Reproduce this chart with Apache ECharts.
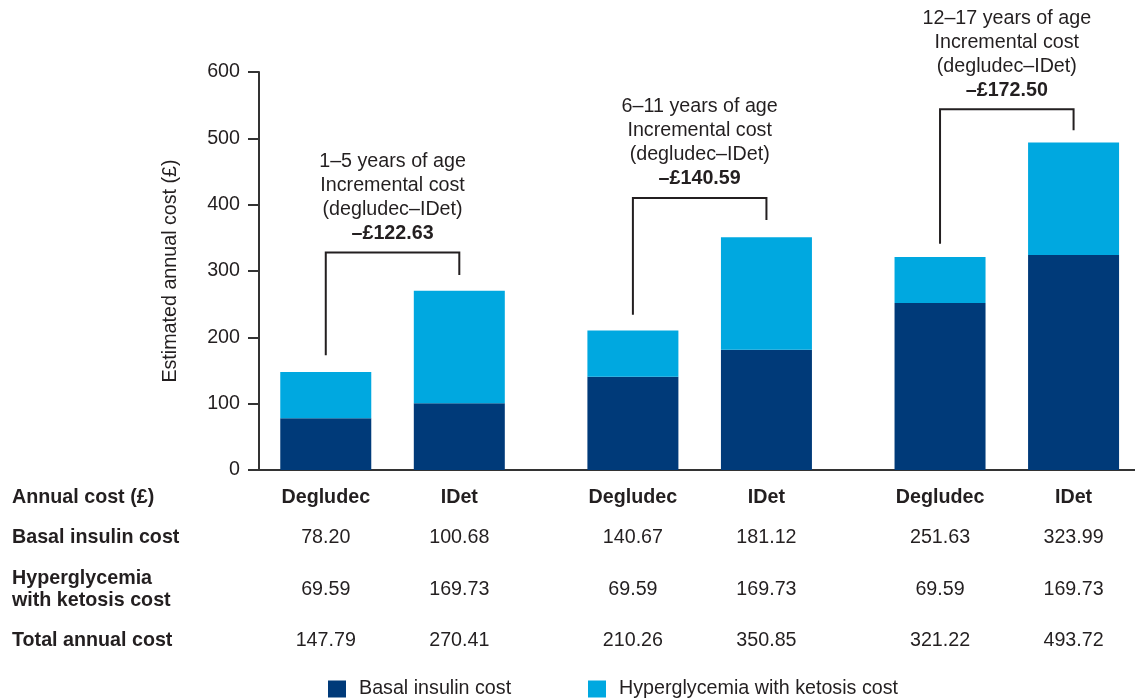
<!DOCTYPE html>
<html>
<head>
<meta charset="utf-8">
<script src="https://cdn.jsdelivr.net/npm/echarts@6/dist/echarts.min.js"></script>
<style>
html,body{margin:0;padding:0;background:#fff;}
#chart{width:1135px;height:699px;}
</style>
</head>
<body>
<div id="chart"></div>
<script>
// ---- data ----
const groupTitles = ['1–5 years of age', '6–11 years of age', '12–17 years of age'];
const incrementalCost = ['–£122.63', '–£140.59', '–£172.50'];
const columnNames = ['Degludec', 'IDet', 'Degludec', 'IDet', 'Degludec', 'IDet'];
const barPositions = [0.5, 1.5, 2.8, 3.8, 5.1, 6.1];
const basalCost = [78.20, 100.68, 140.67, 181.12, 251.63, 323.99];
const hyperCost = [69.59, 169.73, 69.59, 169.73, 69.59, 169.73];
const totalCost = [147.79, 270.41, 210.26, 350.85, 321.22, 493.72];
const bracketTop = [328, 410, 544];
const bracketLeftEnd = [173, 234, 341];
const bracketRightEnd = [294, 377, 512];
const yTickLabels = [0, 100, 200, 300, 400, 500, 600];
const rowLabels = ['Annual cost (£)', 'Basal insulin cost', 'Hyperglycemia\nwith ketosis cost', 'Total annual cost'];
const seriesNames = ['Basal insulin cost', 'Hyperglycemia with ketosis cost'];

const FONT = "'Liberation Sans', Arial, Helvetica, sans-serif";
const TXT = '#231f20';
const NAVY = '#003a79';
const CYAN = '#00a8e0';
const FS = 19.7;

const chart = echarts.init(document.getElementById('chart'), null, {renderer: 'canvas'});

const bracketData = [0, 1, 2].map(g => [barPositions[2 * g], barPositions[2 * g + 1], bracketTop[g], bracketLeftEnd[g], bracketRightEnd[g], g]);
const tableData = barPositions.map((x, i) => [x, 0, i]);

function rowLabel(text, y) {
  return {type: 'text', x: 12, y: y,
    style: {text: text, fontSize: FS, fontWeight: 'bold', fontFamily: FONT, fill: TXT,
      verticalAlign: 'middle', align: 'left', lineHeight: 22}};
}

const option = {
  backgroundColor: '#fff',
  animation: false,
  textStyle: {fontFamily: FONT},
  grid: {left: 259, right: 0, top: 72, bottom: 229, containLabel: false},
  legend: [
    {
      left: 328, top: 679, padding: 0, itemWidth: 18, itemHeight: 17, icon: 'rect',
      data: [seriesNames[0]],
      textStyle: {fontSize: FS, color: TXT, fontFamily: FONT, padding: [0, 0, 0, 8]}
    },
    {
      left: 588, top: 679, padding: 0, itemWidth: 18, itemHeight: 17, icon: 'rect',
      data: [seriesNames[1]],
      textStyle: {fontSize: FS, color: TXT, fontFamily: FONT, padding: [0, 0, 0, 8]}
    }
  ],
  xAxis: {
    type: 'value', min: 0, max: 6.56,
    axisLine: {show: true, onZero: false, lineStyle: {color: '#333', width: 2}},
    axisTick: {show: false}, axisLabel: {show: false}, splitLine: {show: false}
  },
  yAxis: {
    type: 'value', min: 0, max: 600, interval: 100,
    name: 'Estimated annual cost (£)', nameLocation: 'middle', nameGap: 78,
    nameTextStyle: {fontSize: FS, color: TXT, fontFamily: FONT},
    axisLine: {show: true, lineStyle: {color: '#333', width: 2}},
    axisTick: {show: true, length: 11, lineStyle: {color: '#333', width: 2}},
    axisLabel: {fontSize: FS, color: TXT, margin: 19, fontFamily: FONT,
      formatter: v => yTickLabels.indexOf(v) >= 0 ? String(v) : ''},
    splitLine: {show: false}
  },
  series: [
    {
      name: seriesNames[0], type: 'bar', stack: 'cost', barWidth: 91,
      itemStyle: {color: NAVY},
      encode: {x: 1, y: 0},
      data: barPositions.map((x, i) => [basalCost[i], x])
    },
    {
      name: seriesNames[1], type: 'bar', stack: 'cost', barWidth: 91,
      itemStyle: {color: CYAN},
      encode: {x: 1, y: 0},
      data: barPositions.map((x, i) => [hyperCost[i], x])
    },
    {
      type: 'custom', name: 'brackets', clip: false, silent: true,
      encode: {x: [0, 1], y: [2, 3, 4]},
      data: bracketData,
      renderItem: function (params, api) {
        const xl = api.value(0), xr = api.value(1);
        const top = api.value(2), le = api.value(3), re = api.value(4);
        const g = api.value(5);
        const pL = api.coord([xl, le]);
        const pT = api.coord([xl, top]);
        const pR = api.coord([xr, re]);
        const pRT = api.coord([xr, top]);
        return {
          type: 'group',
          children: [
            {
              type: 'polyline',
              shape: {points: [pL, pT, pRT, pR]},
              style: {stroke: '#231f20', lineWidth: 2, fill: null}
            },
            {
              type: 'text',
              x: (pT[0] + pRT[0]) / 2,
              y: pT[1] - 7,
              style: {
                text: groupTitles[g] + '\nIncremental cost\n(degludec–IDet)\n{b|' + incrementalCost[g] + '}',
                align: 'center', verticalAlign: 'bottom',
                fontSize: FS, fontFamily: FONT, fill: TXT, lineHeight: 24,
                rich: {b: {fontWeight: 'bold', fontSize: FS, fontFamily: FONT, fill: TXT, lineHeight: 24}}
              }
            }
          ]
        };
      }
    },
    {
      type: 'custom', name: 'table', clip: false, silent: true,
      encode: {x: 0, y: 1},
      data: tableData,
      renderItem: function (params, api) {
        const i = api.value(2);
        const p = api.coord([api.value(0), 0]);
        const base = p[1];
        const mk = (txt, dy, bold) => ({
          type: 'text', x: p[0], y: base + dy,
          style: {text: txt, align: 'center', verticalAlign: 'middle', fontSize: FS,
            fontFamily: FONT, fontWeight: bold ? 'bold' : 'normal', fill: TXT}
        });
        return {
          type: 'group',
          children: [
            mk(columnNames[i], 28, true),
            mk(basalCost[i].toFixed(2), 68, false),
            mk(hyperCost[i].toFixed(2), 120, false),
            mk(totalCost[i].toFixed(2), 171, false)
          ]
        };
      }
    }
  ],
  graphic: [
    rowLabel(rowLabels[0], 498),
    rowLabel(rowLabels[1], 538),
    rowLabel(rowLabels[2], 590),
    rowLabel(rowLabels[3], 641)
  ]
};

chart.setOption(option);
</script>
</body>
</html>
